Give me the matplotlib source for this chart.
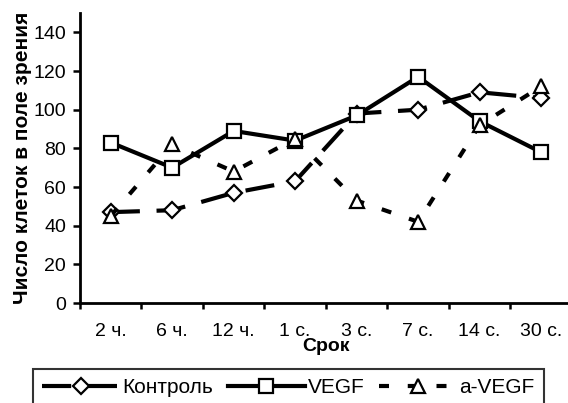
import matplotlib.pyplot as plt

plt.rcParams['font.family'] = ['Liberation Sans', 'DejaVu Sans']

# data
periods = ['2 ч.', '6 ч.', '12 ч.', '1 с.', '3 с.', '7 с.', '14 с.', '30 с.']
control = [47, 48, 57, 63, 98, 100, 109, 106]
vegf = [83, 70, 89, 84, 97, 117, 94, 78]
anti_vegf = [45, 82, 68, 85, 53, 42, 92, 112]

fig = plt.figure(figsize=(5.68, 4.03), dpi=100)
# right edge of the axis runs slightly past the image, as in the source
ax = fig.add_axes([0.1408, 0.2481, 0.866, 0.7196])

x = range(len(periods))
lw = 3
fs = 14
ax.plot(x, control, color='black', lw=lw, dashes=(7, 4), marker='D', ms=8,
        mfc='white', mec='black', mew=1.6, label='Контроль')
ax.plot(x, vegf, color='black', lw=lw, marker='s', ms=9.5,
        mfc='white', mec='black', mew=1.6, label='VEGF')
ax.plot(x, anti_vegf, color='black', lw=lw, dashes=(2.4, 4.5), marker='^', ms=10,
        mfc='white', mec='black', mew=1.6, label='a-VEGF')

ax.set_xlim(-0.5, len(periods) - 0.5)
ax.set_ylim(0, 150)
ax.set_yticks(range(0, 141, 20))
ax.set_xticks([i - 0.5 for i in range(len(periods) + 1)])
ax.set_xticklabels([])
ax.set_xticks(list(x), minor=True)
ax.set_xticklabels(periods, minor=True)
ax.tick_params(axis='x', which='minor', length=0, pad=14.5, labelsize=fs)
ax.tick_params(axis='x', which='major', length=4, width=1.8, direction='out')
ax.tick_params(axis='y', length=5, width=1.8, direction='out', labelsize=fs, pad=5)

for side in ['top', 'right']:
    ax.spines[side].set_visible(False)
for side in ['left', 'bottom']:
    ax.spines[side].set_linewidth(2)

ax.set_xlabel('Срок', fontsize=fs, fontweight='bold', labelpad=-1.5)
ax.set_ylabel('Число клеток в поле зрения', fontsize=15, fontweight='bold', labelpad=1)

# legend box runs off the bottom edge like in the source image
leg = fig.legend(loc='upper left', bbox_to_anchor=(0.0581, -0.1, 0.8996, 0.1844),
                 mode='expand', ncol=3, fontsize=15, handlelength=3.7,
                 handletextpad=0.15, columnspacing=0.5,
                 frameon=True, fancybox=False, borderpad=0.45, borderaxespad=0)
leg.get_frame().set_edgecolor('black')
leg.get_frame().set_linewidth(1.5)

plt.savefig('out.png', dpi=100)
plt.close()
